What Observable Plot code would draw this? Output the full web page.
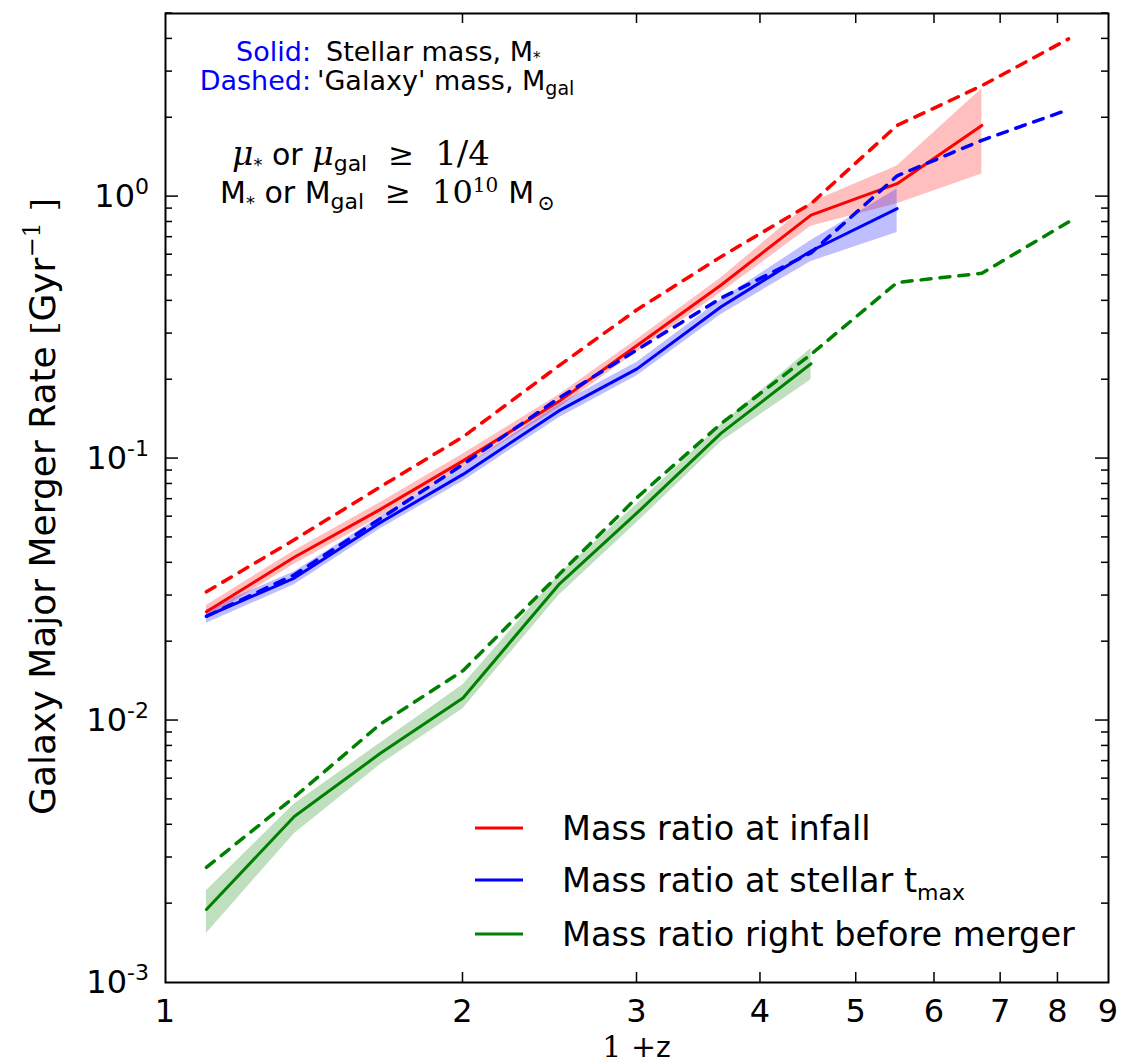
<!DOCTYPE html>
<html><head><meta charset="utf-8">
<script src="https://cdn.jsdelivr.net/npm/d3@7"></script>
<script src="https://cdn.jsdelivr.net/npm/@observablehq/plot@0.6"></script>
<style>body{margin:0;background:#fff;} svg{display:block;}</style>
</head><body><div id="chart"></div>
<script>
// ---- data ----
const onePlusZ = [1.1, 1.35, 1.65, 2.0, 2.5, 3.0, 3.65, 4.5, 5.5, 6.7, 8.2];

const infallSolid   = [0.026, 0.042, 0.064, 0.098, 0.165, 0.27, 0.46, 0.85, 1.12, 1.87];
const infallLo      = [0.0245, 0.0395, 0.060, 0.092, 0.156, 0.255, 0.43, 0.77, 0.94, 1.22];
const infallHi      = [0.0275, 0.0445, 0.068, 0.104, 0.175, 0.285, 0.49, 0.95, 1.31, 2.58];
const infallDashed  = [0.031, 0.049, 0.078, 0.121, 0.226, 0.37, 0.59, 0.94, 1.87, 2.65, 4.0];

const tmaxSolid     = [0.025, 0.035, 0.057, 0.087, 0.152, 0.22, 0.38, 0.62, 0.90];
const tmaxLo        = [0.0235, 0.033, 0.054, 0.082, 0.143, 0.207, 0.355, 0.565, 0.73];
const tmaxHi        = [0.0265, 0.037, 0.060, 0.092, 0.161, 0.233, 0.405, 0.68, 1.07];
const tmaxDashed    = [0.025, 0.036, 0.059, 0.095, 0.17, 0.26, 0.41, 0.61, 1.2, 1.64, 2.15];

const mergerSolid   = [0.0019, 0.0043, 0.0075, 0.0122, 0.033, 0.062, 0.125, 0.23];
const mergerLo      = [0.00154, 0.0037, 0.0068, 0.0111, 0.030, 0.057, 0.116, 0.20];
const mergerHi      = [0.00224, 0.0048, 0.0082, 0.0137, 0.036, 0.067, 0.135, 0.263];
const mergerDashed  = [0.00275, 0.0051, 0.0097, 0.0155, 0.036, 0.071, 0.136, 0.25, 0.47, 0.51, 0.80];

const seriesNames  = ["Mass ratio at infall", "Mass ratio at stellar t_max", "Mass ratio right before merger"];
const seriesColors = ["#ff0000", "#0000ff", "#008000"];

const xTickValues = [1, 2, 3, 4, 5, 6, 7, 8, 9];
const yDecades = [-3, -2, -1, 0];

(function () {
function rows(series, ys, lo, hi) {
  return ys.map((y, i) => ({series, x: onePlusZ[i], y, lo: lo ? lo[i] : null, hi: hi ? hi[i] : null}));
}
const solid = [
  ...rows(seriesNames[0], infallSolid, infallLo, infallHi),
  ...rows(seriesNames[1], tmaxSolid, tmaxLo, tmaxHi),
  ...rows(seriesNames[2], mergerSolid, mergerLo, mergerHi)
];
const dashed = [
  ...rows(seriesNames[0], infallDashed),
  ...rows(seriesNames[1], tmaxDashed),
  ...rows(seriesNames[2], mergerDashed)
];

const chart = Plot.plot({
  width: 1130, height: 1062,
  marginLeft: 165, marginRight: 22, marginTop: 13, marginBottom: 80,
  x: {type: "log", domain: [1, 9], axis: null},
  y: {type: "log", domain: [1e-3, 5], axis: null},
  color: {domain: seriesNames, range: seriesColors},
  style: {fontFamily: "DejaVu Sans", background: "white", overflow: "visible"},
  marks: [
    Plot.areaY(solid, {x: "x", y1: "lo", y2: "hi", z: "series", fill: "series", fillOpacity: 0.25}),
    Plot.line(solid, {x: "x", y: "y", z: "series", stroke: "series", strokeWidth: 3}),
    Plot.line(dashed, {x: "x", y: "y", z: "series", stroke: "series", strokeWidth: 3.5, strokeDasharray: "10,9"}),
    Plot.frame({stroke: "black", strokeWidth: 2})
  ]
});
document.getElementById("chart").appendChild(chart);

const sx = chart.scale("x"), sy = chart.scale("y");
const X = v => sx.apply(v), Y = v => sy.apply(v);
const xL = X(1), xR = X(9), yB = Y(1e-3), yT = Y(5);
const svg = d3.select(chart);
const g = svg.append("g").attr("fill", "black").attr("font-family", "DejaVu Sans");

function richText(parent, x, y, anchor, size, parts, extra) {
  const t = parent.append("text").attr("x", x).attr("y", y).attr("text-anchor", anchor).attr("font-size", size);
  if (extra) extra(t);
  let cur = 0;
  for (const p of parts) {
    const shift = p.shift || 0;
    const ts = t.append("tspan").text(p.t);
    if (shift - cur !== 0) ts.attr("dy", shift - cur);
    cur = shift;
    if (p.size) ts.attr("font-size", p.size);
    if (p.family) ts.attr("font-family", p.family);
    if (p.fill) ts.attr("fill", p.fill);
    if (p.italic) ts.attr("font-style", "italic");
    if (p.dx) ts.attr("dx", p.dx);
  }
  return t;
}

const ticks = g.append("g").attr("stroke", "black").attr("stroke-width", 1.5);
xTickValues.slice(1, -1).forEach(v => {
  ticks.append("line").attr("x1", X(v)).attr("x2", X(v)).attr("y1", yB).attr("y2", yB - 10);
  ticks.append("line").attr("x1", X(v)).attr("x2", X(v)).attr("y1", yT).attr("y2", yT + 10);
});
yDecades.forEach(e => {
  for (let m = 1; m <= 9; m++) {
    const v = m * Math.pow(10, e);
    if (v <= 1e-3 || v > 5) continue;
    const len = m === 1 ? 13 : 7;
    ticks.append("line").attr("x1", xL).attr("x2", xL + len).attr("y1", Y(v)).attr("y2", Y(v));
    ticks.append("line").attr("x1", xR).attr("x2", xR - len).attr("y1", Y(v)).attr("y2", Y(v));
  }
});
xTickValues.forEach(v => {
  g.append("text").attr("x", X(v)).attr("y", yB + 40).attr("text-anchor", "middle")
    .attr("font-size", 32).text(String(v));
});
yDecades.forEach(e => {
  richText(g, xL - 16, Y(Math.pow(10, e)) + 11, "end", 32, [
    {t: "10"},
    {t: String(e), size: 22, shift: -13}
  ]);
});
// x label
richText(g, (xL + xR) / 2, yB + 75, "middle", 30, [
  {t: "1 ", family: "DejaVu Serif"}, {t: "+", family: "DejaVu Serif"}, {t: "z", size: 28}
]);
// y label
richText(g, 0, 0, "middle", 36, [
  {t: "Galaxy Major Merger Rate "},
  {t: "[", family: "DejaVu Serif", size: 34},
  {t: "Gyr"},
  {t: "\u22121", size: 24, shift: -15, family: "DejaVu Serif"},
  {t: " ]", family: "DejaVu Serif", size: 34, shift: 0}
], t => t.attr("transform", `translate(55,${(yT + yB) / 2 + 9}) rotate(-90)`));

// annotation: solid / dashed
const blue = "#0000ff";
g.append("text").attr("x", 311).attr("y", 61).attr("text-anchor", "end").attr("font-size", 27).attr("fill", blue).text("Solid:");
g.append("text").attr("x", 311).attr("y", 90).attr("text-anchor", "end").attr("font-size", 27).attr("fill", blue).text("Dashed:");
richText(g, 326, 61, "start", 27, [{t: "Stellar mass, M"}, {t: "*", size: 15, shift: 2}]);
richText(g, 317, 90, "start", 27, [{t: "'Galaxy' mass, M"}, {t: "gal", size: 19, shift: 5}]);

// criteria
richText(g, 232, 165, "start", 30, [
  {t: "\u03bc", family: "DejaVu Serif", italic: true, size: 33},
  {t: "*", size: 18, shift: 6},
  {t: " or ", shift: 0},
  {t: "\u03bc", family: "DejaVu Serif", italic: true, size: 33},
  {t: "gal", size: 22, shift: 6},
  {t: "\u2265", family: "DejaVu Serif", size: 31, shift: 0, dx: 21},
  {t: "1/4", family: "DejaVu Serif", size: 34, dx: 21}
]);
richText(g, 220, 203, "start", 30, [
  {t: "M"},
  {t: "*", size: 18, shift: 6},
  {t: " or M", shift: 0},
  {t: "gal", size: 22, shift: 6},
  {t: "\u2265", family: "DejaVu Serif", size: 31, shift: 0, dx: 21},
  {t: "10", family: "DejaVu Serif", size: 32, dx: 21},
  {t: "10", family: "DejaVu Serif", size: 20, shift: -11},
  {t: "M", shift: 0, dx: 10},
  {t: "\u2299", family: "DejaVu Serif", size: 21, shift: 7, dx: 3}
]);

// legend
const legendY = [828, 880, 934];
seriesNames.forEach((name, i) => {
  g.append("line").attr("x1", 475).attr("x2", 523).attr("y1", legendY[i]).attr("y2", legendY[i])
    .attr("stroke", seriesColors[i]).attr("stroke-width", 3);
  const parts = name.endsWith("t_max")
    ? [{t: "Mass ratio at stellar t"}, {t: "max", size: 22, shift: 8}]
    : [{t: name}];
  richText(g, 562, legendY[i] + 12, "start", 33.5, parts);
});
})();
</script>
</body></html>
